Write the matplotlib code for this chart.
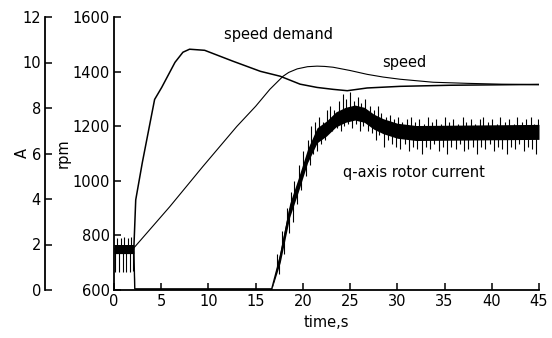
import matplotlib
matplotlib.use("Agg")
import matplotlib.pyplot as plt

# ---- data ----
speed_t = [0, 2.0, 5.9, 9.4, 13.0, 15.0, 16.5, 17.9, 18.5, 19.4, 20.5, 21.5, 22.3,
           23.2, 25.0, 26.8, 28.5, 30.3, 33.8, 37.4, 41.0, 45.0]
speed_rpm = [750, 750, 905, 1052, 1199, 1273, 1335, 1383, 1397, 1410, 1418, 1420, 1419,
             1416, 1404, 1390, 1380, 1372, 1361, 1357, 1354, 1352]

demand_t = [0, 2.1, 2.3, 3.0, 4.3, 5.05, 6.46, 7.3, 8.0, 9.6, 12.6, 15.5, 17.6,
            19.7, 21.5, 23.2, 24.7, 26.8, 30.3, 35.6, 45.0]
demand_rpm = [750, 750, 930, 1067, 1298, 1342, 1434, 1471, 1482, 1478, 1438, 1401, 1383,
              1354, 1342, 1335, 1330, 1340, 1346, 1350, 1353]

cur_t = [0, 2.1, 2.2, 16.7, 17.6, 18.6, 19.5, 20.5, 21.5, 22.5, 23.5, 24.5, 25.5,
         26.5, 27.5, 28.5, 30.0, 32.0, 45.0]
cur_mid = [1.8, 1.8, 0.05, 0.05, 1.46, 3.5, 4.6, 5.9, 6.8, 7.1, 7.5, 7.7, 7.8,
           7.7, 7.4, 7.2, 7.0, 6.9, 6.95]
cur_half = [0.2, 0.2, 0.02, 0.02, 0.25, 0.3, 0.3, 0.3, 0.33, 0.33, 0.33, 0.33, 0.33,
            0.33, 0.33, 0.33, 0.33, 0.33, 0.33]

spike_up_t = [0.3, 0.7, 1.1, 1.45, 1.85,
              17.3, 17.8, 18.3, 18.7, 19.1, 19.6, 20.0, 20.5, 20.9, 21.3, 21.7, 22.1, 22.5,
              22.9, 23.3, 23.8, 24.2, 24.6, 25.0, 25.4, 25.8, 26.2, 26.6, 27.1, 27.5, 27.9,
              28.3, 28.8, 29.2, 29.6, 30.1, 30.5, 31.0, 31.4, 31.9, 32.3, 32.8, 33.2, 33.7,
              34.1, 34.6, 35.0, 35.5, 35.9, 36.4, 36.9, 37.3, 37.8, 38.2, 38.7, 39.1, 39.6,
              40.0, 40.5, 40.9, 41.4, 41.8, 42.3, 42.7, 43.2, 43.6, 44.1, 44.5, 44.9]
spike_up_v = [2.3, 2.3, 2.35, 2.3, 2.35,
              1.6, 2.6, 3.6, 4.3, 4.8, 5.5, 6.1, 6.6, 7.2, 7.4, 7.6, 7.4, 7.9,
              8.1, 7.9, 8.3, 8.6, 8.4, 8.7, 8.3, 8.5, 8.2, 8.4, 8.1, 7.9, 8.1,
              7.8, 7.6, 7.7, 7.5, 7.6, 7.4, 7.5, 7.6, 7.4, 7.5, 7.3, 7.6, 7.4,
              7.5, 7.3, 7.6, 7.4, 7.5, 7.3, 7.6, 7.4, 7.5, 7.3, 7.5, 7.6, 7.4,
              7.5, 7.3, 7.6, 7.4, 7.5, 7.3, 7.6, 7.4, 7.5, 7.6, 7.3, 7.5]
spike_dn_t = [0.1, 0.55, 0.95, 1.3, 1.65, 2.0,
              17.5, 18.0, 18.5, 18.9, 19.4, 19.8, 20.3, 20.7, 21.1, 21.5, 21.9, 22.3, 22.7,
              23.1, 23.6, 24.0, 24.4, 24.8, 25.2, 25.6, 26.0, 26.4, 26.9, 27.3, 27.7, 28.1,
              28.6, 29.0, 29.4, 29.9, 30.3, 30.8, 31.2, 31.7, 32.1, 32.6, 33.0, 33.5, 33.9,
              34.4, 34.8, 35.3, 35.7, 36.2, 36.6, 37.1, 37.5, 38.0, 38.4, 38.9, 39.3, 39.8,
              40.2, 40.7, 41.1, 41.6, 42.0, 42.5, 42.9, 43.4, 43.8, 44.3, 44.7]
spike_dn_v = [0.8, 0.8, 0.8, 0.8, 0.8, 0.85,
              0.7, 1.6, 2.5, 3.0, 3.8, 4.4, 5.0, 5.5, 6.0, 6.1, 6.4, 6.6, 6.9,
              7.0, 7.1, 7.0, 7.2, 7.3, 7.1, 7.3, 7.0, 7.2, 7.0, 6.9, 6.6, 6.8,
              6.3, 6.6, 6.4, 6.3, 6.2, 6.4, 6.1, 6.3, 6.2, 6.0, 6.3, 6.2, 6.4,
              6.1, 6.3, 6.0, 6.3, 6.2, 6.4, 6.1, 6.2, 6.3, 6.0, 6.3, 6.2, 6.4,
              6.1, 6.3, 6.2, 6.0, 6.3, 6.2, 6.4, 6.1, 6.3, 6.2, 6.0]

x_ticks = [0, 5, 10, 15, 20, 25, 30, 35, 40, 45]
rpm_ticks = [600, 800, 1000, 1200, 1400, 1600]
amp_ticks = [0, 2, 4, 6, 8, 10, 12]

# ---- figure ----
plt.rcParams['font.family'] = ['DejaVu Sans']
fig = plt.figure(figsize=(5.52, 3.38), dpi=100)
ax = fig.add_axes([114/552, 1 - 290/338, 425/552, (290 - 17)/338])
ax2 = ax.twinx()

ax.plot(speed_t, speed_rpm, color='black', lw=0.8)
ax.plot(demand_t, demand_rpm, color='black', lw=1.1)

lo = [m - h for m, h in zip(cur_mid, cur_half)]
hi = [m + h for m, h in zip(cur_mid, cur_half)]
ax2.fill_between(cur_t, lo, hi, color='black', lw=0)
ax2.plot(cur_t, cur_mid, color='black', lw=1.0)

def mid_at(t):
    for i in range(len(cur_t) - 1):
        if cur_t[i] <= t <= cur_t[i + 1]:
            f = (t - cur_t[i]) / (cur_t[i + 1] - cur_t[i])
            return cur_mid[i] + f * (cur_mid[i + 1] - cur_mid[i])
    return cur_mid[-1]

for t, v in zip(spike_up_t, spike_up_v):
    ax2.vlines(t, mid_at(t), v, color='black', lw=0.8)
for t, v in zip(spike_dn_t, spike_dn_v):
    ax2.vlines(t, v, mid_at(t), color='black', lw=0.8)

ax.set_xlim(0, 45)
ax.set_ylim(600, 1600)
ax2.set_ylim(0, 12)
ax.set_xticks(x_ticks)
ax.set_yticks(rpm_ticks)
ax2.set_yticks(amp_ticks)

for s in ['top', 'right']:
    ax.spines[s].set_visible(False)
for s in ['top', 'right', 'bottom']:
    ax2.spines[s].set_visible(False)
ax2.spines['left'].set_visible(True)
ax2.spines['left'].set_position(('axes', -0.162))
ax2.yaxis.tick_left()
ax2.yaxis.set_label_position('left')

for a in (ax, ax2):
    for s in a.spines.values():
        s.set_linewidth(1.3)
ax.tick_params(direction='in', length=5, width=1.1, labelsize=10.5, pad=3)
ax2.tick_params(direction='in', length=5, width=1.1, labelsize=10.5, pad=3)

ax.set_xlabel('time,s', fontsize=10.5, labelpad=4)
fig.text(22/552, 1 - 153/338, 'A', rotation=90, ha='center', va='center', fontsize=10.5)
fig.text(63/552, 1 - 153/338, 'rpm', rotation=90, ha='center', va='center', fontsize=10.5)

ax.text(278/552, 1 - 35/338, 'speed demand', transform=fig.transFigure,
        ha='center', va='center', fontsize=10.5)
ax.text(404/552, 1 - 63/338, 'speed', transform=fig.transFigure,
        ha='center', va='center', fontsize=10.5)
ax.text(414/552, 1 - 172/338, 'q-axis rotor current', transform=fig.transFigure,
        ha='center', va='center', fontsize=10.5)

fig.savefig('out.png', dpi=100)
